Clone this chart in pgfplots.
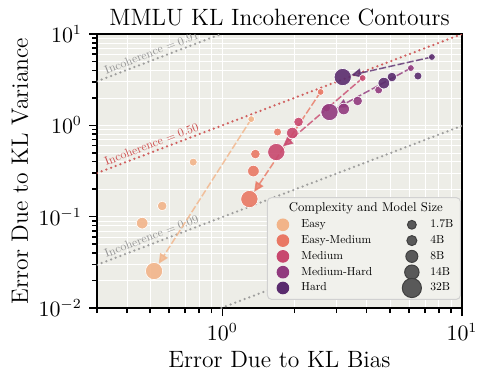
\documentclass[border=0pt]{standalone}
\usepackage{pgfplots}
\pgfplotsset{compat=1.18}
\usetikzlibrary{arrows.meta}

\definecolor{cEasy}{HTML}{F2B489}
\definecolor{cEasyMed}{HTML}{E97864}
\definecolor{cMed}{HTML}{C8476E}
\definecolor{cMedHard}{HTML}{913A7E}
\definecolor{cHard}{HTML}{5A2C6E}
\definecolor{bgc}{HTML}{EDEDE7}
\definecolor{legbg}{HTML}{F1F1EC}
\definecolor{cgray}{HTML}{969696}
\definecolor{cred}{HTML}{CD5050}

\tikzset{clab/.style={#1, rotate=20.9, anchor=south west, inner sep=1.5pt}}
\newcommand{\lt}[1]{\scalebox{0.58}{#1}}

\pgfplotsset{
  pts/.style={scatter, only marks, mark=*, forget plot,
    scatter/use mapped color={draw=white, fill=#1, line width=0.3pt, fill opacity=0.9},
    visualization depends on={\thisrow{r}\as\rad},
    scatter/@pre marker code/.append style={/tikz/mark size=\rad}},
  arr/.style={#1, forget plot, line width=0.75pt, opacity=0.8,
    dash pattern=on 3.5pt off 1.2pt,
    -{Triangle[length=5pt,width=4.5pt]}, shorten >=4.3pt},
  contour/.style={#1, forget plot, line width=1.25pt, line cap=round,
    dash pattern=on 0pt off 2.5pt, opacity=0.9},
  legc/.style={legend image code/.code={\fill[#1, overlay] (5.5pt,0pt) circle (2.9pt); \path (0pt,-1.5pt) (13pt,1.5pt);}},
  legs/.style={legend image code/.code={\filldraw[draw=black!75, fill=black!65, overlay] (5.5pt,0pt) circle (#1); \path (0pt,-1.5pt) (13pt,1.5pt);}},
}

\begin{document}
\begin{tikzpicture}
\begin{axis}[
  scale only axis, width=182.5pt, height=137pt,
  xmode=log, ymode=log,
  xmin=0.3, xmax=10, ymin=0.01, ymax=10,
  axis background/.style={fill=bgc},
  grid=both,
  major grid style={white, line width=0.6pt},
  minor grid style={white, line width=0.3pt},
  axis line style={line width=1.1pt},
  tick align=outside, tick pos=left,
  major tick length=4pt, minor tick length=2.5pt,
  every tick/.style={black, line width=0.8pt},
  xtick={1,10}, ytick={0.01,0.1,1,10},
  minor xtick={0.3,0.4,0.5,0.6,0.7,0.8,0.9,2,3,4,5,6,7,8,9},
  minor ytick={0.02,0.03,0.04,0.05,0.06,0.07,0.08,0.09,0.2,0.3,0.4,0.5,0.6,0.7,0.8,0.9,2,3,4,5,6,7,8,9},
  tick label style={font=\fontsize{10.5}{12}\selectfont},
  title={MMLU KL Incoherence Contours},
  title style={font=\fontsize{11.8}{14}\selectfont, at={(0.5,1)}, anchor=center, yshift=2.5pt},
  xlabel={Error Due to KL Bias},
  ylabel={Error Due to KL Variance},
  xlabel style={font=\fontsize{11.8}{14}\selectfont, at={(axis description cs:0.5,0)}, anchor=center, yshift=-26pt},
  ylabel style={font=\fontsize{11.8}{14}\selectfont, at={(axis description cs:-0.211,0.5)}, anchor=center},
  legend columns=2,
  legend cell align=left,
  legend style={at={(0.997,0.03)}, anchor=south east, draw=black!18, fill=legbg,
    rounded corners=2pt, line width=0.5pt,
    inner xsep=2pt, inner ysep=2pt, row sep=0.6pt,
    nodes={inner xsep=1.5pt, inner ysep=1pt, text height=4.1pt, text depth=1.2pt},
    /tikz/every even column/.append style={column sep=12.5pt}},
]
% legend
\addlegendimage{empty legend}
\addlegendentry{\hspace*{-10.5pt}\rlap{\scalebox{0.637}{Complexity and Model Size}}}
\addlegendimage{empty legend}
\addlegendentry{}
\addlegendimage{legc=cEasy}
\addlegendentry{\lt{Easy}}
\addlegendimage{legs=2.2pt}
\addlegendentry{\lt{1.7B}}
\addlegendimage{legc=cEasyMed}
\addlegendentry{\lt{Easy-Medium}}
\addlegendimage{legs=2.5pt}
\addlegendentry{\lt{4B}}
\addlegendimage{legc=cMed}
\addlegendentry{\lt{Medium}}
\addlegendimage{legs=3pt}
\addlegendentry{\lt{8B}}
\addlegendimage{legc=cMedHard}
\addlegendentry{\lt{Medium-Hard}}
\addlegendimage{legs=3.6pt}
\addlegendentry{\lt{14B}}
\addlegendimage{legc=cHard}
\addlegendentry{\lt{Hard}}
\addlegendimage{legs=4.8pt}
\addlegendentry{\lt{32B}}

% incoherence contours: V = B * I/(1-I)
\addplot[contour=cgray] coordinates {(0.3,3.033) (0.989,10)};
\addplot[contour=cred] coordinates {(0.3,0.3) (10,10)};
\addplot[contour=cgray] coordinates {(0.3,0.0297) (10,0.989)};
\addplot[contour=cgray] coordinates {(0.99,0.01) (10,0.101)};
\node[clab=cgray] at (axis cs:0.322,3.255) {\scalebox{0.6}{Incoherence $=0.91$}};
\node[clab=cred] at (axis cs:0.322,0.322) {\scalebox{0.6}{Incoherence $=0.50$}};
\node[clab=cgray] at (axis cs:0.322,0.0318) {\scalebox{0.6}{Incoherence $=0.09$}};

% points (r = marker radius for 1.7B, 4B, 8B, 14B, 32B)
\addplot[pts=cEasy] table {
x y r
1.32 1.17 1.7
0.756 0.396 2.0
0.561 0.131 2.4
0.463 0.085 2.9
0.519 0.0254 4.3
};
\addplot[pts=cEasyMed] table {
x y r
2.57 2.32 1.7
1.70 0.845 2.0
1.374 0.485 2.4
1.348 0.316 2.9
1.297 0.156 4.3
};
\addplot[pts=cMed] table {
x y r
3.85 3.30 1.7
2.72 1.55 2.0
2.08 1.09 2.4
1.96 0.824 2.9
1.68 0.510 4.3
};
\addplot[pts=cMedHard] table {
x y r
6.12 4.24 1.7
4.49 2.44 2.0
3.67 1.85 2.4
3.21 1.51 2.9
2.80 1.40 4.3
};
\addplot[pts=cHard] table {
x y r
7.49 5.60 1.7
6.55 3.47 2.0
5.10 3.38 2.4
4.72 2.90 2.9
3.18 3.38 4.3
};

% arrows from 1.7B to 32B
\addplot[arr=cEasy] coordinates {(1.32,1.17) (0.519,0.0254)};
\addplot[arr=cEasyMed] coordinates {(2.57,2.32) (1.297,0.156)};
\addplot[arr=cMed] coordinates {(3.85,3.30) (1.68,0.510)};
\addplot[arr=cMedHard] coordinates {(6.12,4.24) (2.80,1.40)};
\addplot[arr=cHard] coordinates {(7.49,5.60) (3.18,3.38)};
\end{axis}
\pgfresetboundingbox
\path (-48.5pt,-37pt) rectangle (195.5pt,154pt);
\end{tikzpicture}
\end{document}
